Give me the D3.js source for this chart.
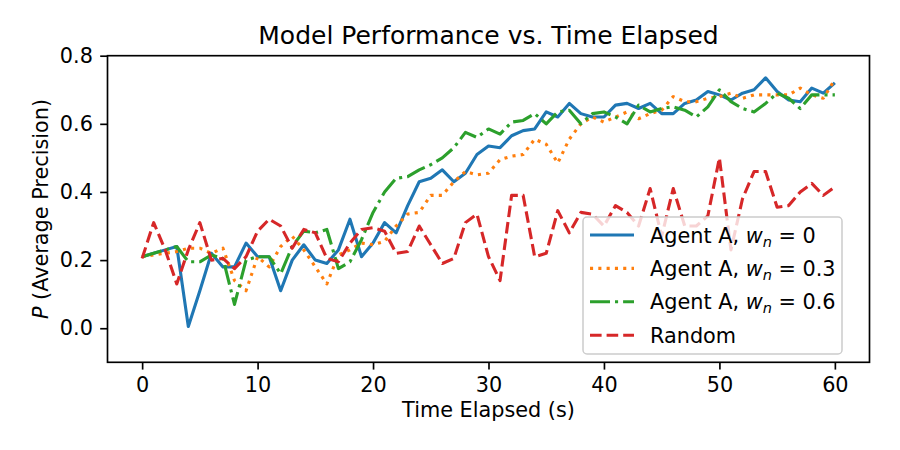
<!DOCTYPE html>
<html>
<head>
<meta charset="utf-8">
<script src="https://cdn.jsdelivr.net/npm/d3@7"></script>
<style>
  body { margin: 0; background: #fff; }
  svg { font-family: "DejaVu Sans", sans-serif; }
</style>
</head>
<body>
<script>

// time steps (s)
var times = d3.range(0, 61)

// Agent A, w_n = 0
var agentW0 = [0.21,0.22,0.23,0.24,0.005,0.11,0.22,0.18,0.18,0.25,0.21,
  0.21,0.11,0.20,0.245,0.20,0.19,0.23,0.32,0.21,0.25,
  0.31,0.28,0.36,0.43,0.44,0.465,0.43,0.455,0.51,0.535,
  0.53,0.565,0.58,0.585,0.635,0.62,0.66,0.63,0.62,0.62,
  0.655,0.66,0.645,0.66,0.63,0.63,0.66,0.67,0.695,0.685,
  0.67,0.69,0.70,0.735,0.695,0.67,0.665,0.705,0.69,0.72]

// Agent A, w_n = 0.3
var agentW03 = [0.21,0.215,0.22,0.225,0.235,0.235,0.22,0.235,0.14,0.11,0.21,
  0.18,0.24,0.27,0.23,0.18,0.13,0.215,0.23,0.25,0.245,
  0.255,0.30,0.335,0.34,0.39,0.39,0.43,0.46,0.45,0.455,
  0.495,0.505,0.51,0.555,0.54,0.485,0.555,0.60,0.62,0.605,
  0.62,0.635,0.615,0.63,0.64,0.68,0.665,0.665,0.675,0.68,
  0.69,0.675,0.685,0.685,0.685,0.685,0.705,0.685,0.675,0.73]

// Agent A, w_n = 0.6
var agentW06 = [0.21,0.22,0.23,0.24,0.195,0.195,0.215,0.205,0.07,0.20,0.21,
  0.21,0.16,0.24,0.285,0.28,0.29,0.175,0.195,0.26,0.34,
  0.40,0.44,0.445,0.465,0.48,0.50,0.53,0.575,0.56,0.585,
  0.57,0.605,0.61,0.63,0.60,0.635,0.64,0.60,0.63,0.635,
  0.62,0.60,0.655,0.635,0.645,0.65,0.64,0.62,0.65,0.70,
  0.665,0.645,0.635,0.66,0.69,0.675,0.645,0.685,0.685,0.685]

// Random
var randomP = [0.205,0.31,0.23,0.13,0.23,0.31,0.20,0.205,0.175,0.21,0.285,
  0.32,0.30,0.235,0.29,0.28,0.205,0.195,0.25,0.29,0.295,
  0.285,0.22,0.225,0.30,0.245,0.19,0.205,0.31,0.335,0.21,
  0.14,0.39,0.39,0.21,0.22,0.345,0.28,0.34,0.335,0.30,
  0.36,0.34,0.30,0.41,0.27,0.41,0.30,0.30,0.33,0.50,
  0.23,0.38,0.46,0.46,0.355,0.36,0.40,0.425,0.39,0.415]

var xTicks = [0, 10, 20, 30, 40, 50, 60]
var yTicks = [0.0, 0.2, 0.4, 0.6, 0.8]

var series = [
  {vals: agentW0, color: "#1f77b4", dash: null, label: "0"},
  {vals: agentW03, color: "#ff7f0e", dash: "3.1,5.2", label: "0.3"},
  {vals: agentW06, color: "#2ca02c", dash: "20,5,3.1,5", label: "0.6"},
  {vals: randomP, color: "#d62728", dash: "11.6,5", label: null}
]

var W = 900, H = 450
var margin = {top: 55.7, right: 30.5, bottom: 87.7, left: 107.5}
var width = W - margin.left - margin.right,
    height = H - margin.top - margin.bottom

var fs = 20.8

var svg = d3.select("body").append("svg")
    .attr("width", W)
    .attr("height", H)

var g = svg.append("g")
    .attr("transform", "translate(" + margin.left + "," + margin.top + ")")

var x = d3.scaleLinear().domain([-3, 63]).range([0, width])
var y = d3.scaleLinear().domain([-0.1, 0.8]).range([height, 0])

var line = d3.line()
    .x(function(d, i) { return x(times[i]) })
    .y(function(d) { return y(d) })

// clip to axes
svg.append("defs").append("clipPath").attr("id", "clip")
  .append("rect").attr("width", width).attr("height", height)

var plot = g.append("g").attr("clip-path", "url(#clip)")

series.forEach(function(s) {
  plot.append("path")
    .datum(s.vals)
    .attr("d", line)
    .attr("fill", "none")
    .attr("stroke", s.color)
    .attr("stroke-width", 3.1)
    .attr("stroke-linejoin", "round")
    .attr("stroke-dasharray", s.dash)
})

// axes
var xAxis = g.append("g")
    .attr("transform", "translate(0," + height + ")")
    .call(d3.axisBottom(x).tickValues(xTicks).tickSize(7.3).tickPadding(7.3).tickFormat(d3.format("d")))
var yAxis = g.append("g")
    .call(d3.axisLeft(y).tickValues(yTicks).tickSize(7.3).tickPadding(7.3).tickFormat(d3.format(".1f")))

;[xAxis, yAxis].forEach(function(a) {
  a.select(".domain").remove()
  a.selectAll(".tick line").attr("stroke", "#000").attr("stroke-width", 1.67)
  a.selectAll(".tick text").attr("fill", "#000").style("font-size", fs + "px")
      .style("font-family", "DejaVu Sans")
})

// frame
g.append("rect")
    .attr("width", width)
    .attr("height", height)
    .attr("fill", "none")
    .attr("stroke", "#000")
    .attr("stroke-width", 1.67)

// title and labels
svg.append("text")
    .attr("x", margin.left + width / 2)
    .attr("y", 43.5)
    .attr("text-anchor", "middle")
    .style("font-size", "25px")
    .text("Model Performance vs. Time Elapsed")

svg.append("text")
    .attr("x", margin.left + width / 2)
    .attr("y", 417)
    .attr("text-anchor", "middle")
    .style("font-size", fs + "px")
    .text("Time Elapsed (s)")

var yl = svg.append("text")
    .attr("transform", "translate(48," + (margin.top + height / 2) + ") rotate(-90)")
    .attr("text-anchor", "middle")
    .style("font-size", fs + "px")
yl.append("tspan").style("font-style", "italic").text("P")
yl.append("tspan").text(" (Average Precision)")

// legend
var lg = svg.append("g").attr("transform", "translate(583,217)")
lg.append("rect")
    .attr("width", 259)
    .attr("height", 137)
    .attr("rx", 4)
    .attr("fill", "#fff")
    .attr("fill-opacity", 0.8)
    .attr("stroke", "#cccccc")
    .attr("stroke-width", 1.5)

series.forEach(function(s, i) {
  var cy = 18 + i * 33.4
  lg.append("line")
    .attr("x1", 7).attr("x2", 51)
    .attr("y1", cy).attr("y2", cy)
    .attr("stroke", s.color)
    .attr("stroke-width", 3.1)
    .attr("stroke-dasharray", s.dash)
  var t = lg.append("text")
    .attr("x", 67)
    .attr("y", cy + 7.5)
    .style("font-size", fs + "px")
  if (s.label === null) {
    t.text("Random")
  } else {
    t.append("tspan").text("Agent A, ")
    t.append("tspan").style("font-style", "italic").text("w")
    t.append("tspan").style("font-style", "italic").style("font-size", (fs * 0.7) + "px")
      .attr("dy", 4).text("n")
    t.append("tspan").attr("dy", -4).text(" = " + s.label)
  }
})

</script>
</body>
</html>
